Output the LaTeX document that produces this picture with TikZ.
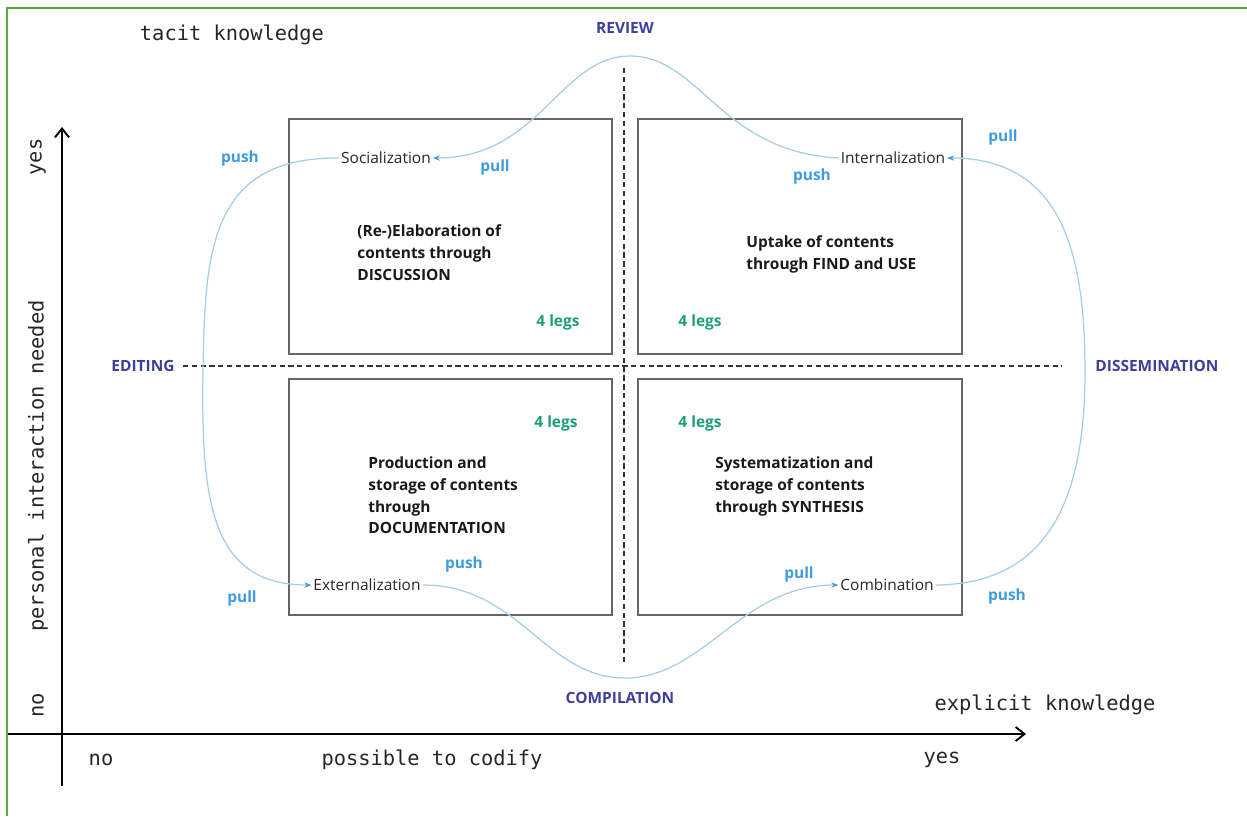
\documentclass[tikz,border=0pt]{standalone}
\usepackage{fontspec}
\setmainfont{Open Sans}
\setmonofont{DejaVu Sans Mono}
\usetikzlibrary{arrows.meta}
\definecolor{frameg}{HTML}{5AAA3C}
\definecolor{boxg}{HTML}{666666}
\definecolor{darkbl}{HTML}{3C3F9C}
\definecolor{lightbl}{HTML}{3D9BE0}
\definecolor{curvebl}{HTML}{A3CDE9}
\definecolor{legsg}{HTML}{1E9E78}
\tikzset{
  quad/.style={draw=boxg, line width=0.9pt},
  axis/.style={draw=black, line width=1.1pt, -{Straight Barb[length=5pt,width=8pt]}},
  divider/.style={draw=black!80, dashed, line width=0.6pt, dash pattern=on 3pt off 2pt},
  flow/.style={draw=curvebl, line width=0.7pt, -{Stealth[length=4pt,width=3pt,color=lightbl]}},
  monot/.style={font=\ttfamily\fontsize{11.6}{14}\selectfont, text=black!85, inner sep=0pt},
  phase/.style={font=\bfseries\fontsize{8.8}{11}\selectfont, text=darkbl, inner sep=0pt},
  pp/.style={font=\bfseries\fontsize{8.8}{11}\selectfont, text=lightbl, inner sep=0pt},
  legs/.style={font=\bfseries\fontsize{8.8}{11}\selectfont, text=legsg, inner sep=0pt},
  mode/.style={font=\fontsize{8.8}{11}\selectfont, text=black!85, inner sep=1pt},
  body/.style={font=\bfseries\fontsize{8.8}{12.5}\selectfont, text=black!90, align=left, anchor=north west, inner sep=0pt},
}
\begin{document}
\begin{tikzpicture}[x=0.02cm, y=-0.02cm]
\useasboundingbox (0,0) rectangle (1247,816);
% green frame
\draw[frameg, line width=1.4pt] (7,816) -- (7,8) -- (1247,8);
% quadrant boxes
\node[quad, minimum width=323*0.02cm, minimum height=235*0.02cm, anchor=north west, inner sep=0pt] (tl) at (288,118) {};
\node[quad, minimum width=324*0.02cm, minimum height=235*0.02cm, anchor=north west, inner sep=0pt] (tr) at (637,118) {};
\node[quad, minimum width=323*0.02cm, minimum height=236*0.02cm, anchor=north west, inner sep=0pt] (bl) at (288,378) {};
\node[quad, minimum width=324*0.02cm, minimum height=236*0.02cm, anchor=north west, inner sep=0pt] (br) at (637,378) {};
% dividers
\coordinate (vt) at (624,68); \coordinate (vb) at (624,665);
\coordinate (hl) at (183,366); \coordinate (hr) at (1062,366);
\draw[divider] (vt) -- (vb);
\draw[divider] (hl) -- (hr);
% axes
\coordinate (yb) at (62,786); \coordinate (yt) at (62,127);
\coordinate (xl) at (8,734); \coordinate (xr) at (1026,734);
\draw[axis] (yb) -- (yt);
\draw[axis] (xl) -- (xr);
% axis texts
\node[monot] (tacit) at (232,35) {tacit knowledge};
\node[monot] (expl) at (1045,705) {explicit knowledge};
\node[monot] (xno) at (101,760) {no};
\node[monot] (codify) at (432,760) {possible to codify};
\node[monot] (xyes) at (942,760) {yes};
\node[monot, rotate=90] (yyes) at (38,157) {yes};
\node[monot, rotate=90] (pin) at (38,466) {personal interaction needed};
\node[monot, rotate=90] (yno) at (38,705) {no};
% phases
\node[phase] (review) at (625,28) {REVIEW};
\node[phase] (editing) at (143,366) {EDITING};
\node[phase] (dissem) at (1157,366) {DISSEMINATION};
\node[phase] (compil) at (620,698) {COMPILATION};
% modes
\node[mode] (soc) at (386,158) {Socialization};
\node[mode] (int) at (893,158) {Internalization};
\node[mode] (ext) at (367,585) {Externalization};
\node[mode] (comb) at (887,585) {Combination};
% body texts
\node[body] (tlt) at (357,224) {(Re-)Elaboration of\\contents through\\DISCUSSION};
\node[body] (trt) at (746,235) {Uptake of contents\\through FIND and USE};
\node[body] (blt) at (368,456) {Production and\\storage of contents\\through\\DOCUMENTATION};
\node[body] (brt) at (715,456) {Systematization and\\storage of contents\\through SYNTHESIS};
% legs
\node[legs] (l1) at (558,322) {4 legs};
\node[legs] (l2) at (700,322) {4 legs};
\node[legs] (l3) at (556,423) {4 legs};
\node[legs] (l4) at (700,423) {4 legs};
% push/pull
\node[pp] (p1) at (240,158) {push};
\node[pp] (p2) at (495,167) {pull};
\node[pp] (p3) at (812,176) {push};
\node[pp] (p4) at (1003,137) {pull};
\node[pp] (p5) at (242,598) {pull};
\node[pp] (p6) at (464,564) {push};
\node[pp] (p7) at (799,574) {pull};
\node[pp] (p8) at (1007,596) {push};
% curves
\draw[flow] (int.west) .. controls (720,152) and (700,56) .. (630,56) .. controls (560,56) and (540,158) .. (soc.east);
\draw[flow] (soc.west) .. controls (210,157) and (205,250) .. (203,370) .. controls (201,500) and (210,585) .. (ext.west);
\draw[flow] (ext.east) .. controls (520,585) and (545,678) .. (625,678) .. controls (705,678) and (740,585) .. (comb.west);
\draw[flow] (comb.east) .. controls (1060,584) and (1085,480) .. (1085,370) .. controls (1085,250) and (1060,158) .. (int.east);
\end{tikzpicture}
\end{document}
